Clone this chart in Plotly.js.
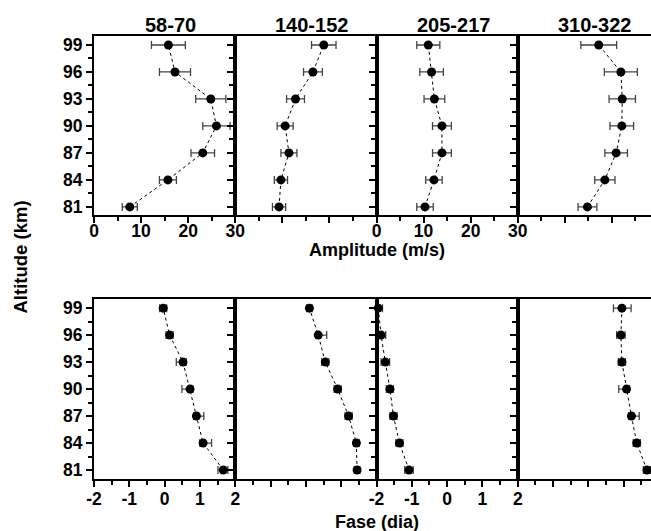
<!DOCTYPE html>
<html>
<head>
<meta charset="utf-8">
<script src="https://cdn.plot.ly/plotly-3.0.1.min.js"></script>
<style>
  html, body { margin: 0; padding: 0; overflow: hidden; background: #fff; }
  #chart { width: 659px; height: 531px; }
</style>
</head>
<body>
<div id="chart"></div>
<script>
// Altitude levels (km)
const altitude = [81, 84, 87, 90, 93, 96, 99];

// Column labels (day-of-year windows)
const windows = ['58-70', '140-152', '205-217', '310-322'];

// Tick values for the amplitude and phase axes
const ampTicks = [0, 10, 20, 30];
const faseTicks = [-2, -1, 0, 1, 2];

// Amplitude (m/s) and its uncertainty per window
const amp58  = [7.6, 15.7, 23.1, 26.0, 24.8, 17.2, 15.8];
const amp58Err  = [1.6, 1.8, 2.5, 2.9, 3.2, 3.3, 3.6];
const amp140 = [9.3, 9.7, 11.4, 10.6, 12.8, 16.5, 18.8];
const amp140Err = [1.4, 1.4, 1.7, 1.7, 1.9, 2.0, 2.6];
const amp205 = [10.3, 12.2, 13.9, 13.9, 12.3, 11.7, 11.0];
const amp205Err = [1.75, 1.75, 2.0, 2.0, 2.2, 2.5, 2.45];
const amp310 = [14.8, 18.5, 20.9, 22.1, 22.2, 21.9, 17.2];
const amp310Err = [2.0, 2.15, 2.4, 2.5, 2.8, 3.5, 3.8];

// Phase (days) with upper / lower uncertainty per window
const fase58  = [1.66, 1.09, 0.90, 0.72, 0.52, 0.14, -0.04];
const fase58Plus  = [0.13, 0.24, 0.21, 0.085, 0.09, 0.10, 0.10];
const fase58Minus = [0.15, 0.09, 0.075, 0.23, 0.19, 0.10, 0.10];
const fase140 = [1.45, 1.43, 1.21, 0.90, 0.55, 0.35, 0.10];
const fase140Plus  = [0.08, 0.08, 0.10, 0.10, 0.10, 0.24, 0.08];
const fase140Minus = [0.08, 0.08, 0.10, 0.10, 0.10, 0.07, 0.08];
const fase205 = [-1.08, -1.35, -1.52, -1.62, -1.75, -1.87, -1.95];
const fase205Plus  = [0.12, 0.10, 0.10, 0.10, 0.12, 0.13, 0.12];
const fase205Minus = [0.12, 0.10, 0.10, 0.10, 0.12, 0.13, 0.12];
const fase310 = [1.66, 1.37, 1.22, 1.08, 0.95, 0.92, 0.95];
const fase310Plus  = [0.10, 0.10, 0.22, 0.08, 0.10, 0.12, 0.26];
const fase310Minus = [0.10, 0.10, 0.08, 0.22, 0.10, 0.12, 0.24];

const ampSeries = [[amp58, amp58Err], [amp140, amp140Err], [amp205, amp205Err], [amp310, amp310Err]];
const faseSeries = [[fase58, fase58Plus, fase58Minus], [fase140, fase140Plus, fase140Minus],
                    [fase205, fase205Plus, fase205Minus], [fase310, fase310Plus, fase310Minus]];

const FONT = 'Liberation Sans, Arial, sans-serif';
const errColor = '#444';
const bold = v => '<b>' + v + '</b>';

function profile(x, errPlus, errMinus, axisIdx) {
  const sfx = axisIdx === 1 ? '' : String(axisIdx);
  return {
    type: 'scatter', mode: 'lines+markers',
    x: x, y: altitude,
    xaxis: 'x' + sfx, yaxis: 'y' + sfx,
    line: { color: '#000', width: 1, dash: 'dot' },
    marker: { color: '#000', size: 9 },
    error_x: { type: 'data', symmetric: false, array: errPlus, arrayminus: errMinus,
               color: errColor, thickness: 1.3, width: 4 },
    cliponaxis: false, showlegend: false, hoverinfo: 'skip'
  };
}

const traces = [];
ampSeries.forEach((s, i) => traces.push(profile(s[0], s[1], s[1], i + 1)));
faseSeries.forEach((s, i) => traces.push(profile(s[0], s[1], s[2], i + 5)));

const tickFont = { family: FONT, size: 17.5, color: '#000' };
const layout = {
  width: 659, height: 531,
  margin: { l: 94, r: 0, t: 36, b: 52 },
  paper_bgcolor: '#fff', plot_bgcolor: '#fff',
  font: { family: FONT, color: '#000' },
  annotations: [],
  showlegend: false
};

const topDom = [0.596, 1], botDom = [0, 0.406];

for (let i = 0; i < 8; i++) {
  const n = i + 1;
  const sfx = n === 1 ? '' : String(n);
  const col = i % 4;
  const top = i < 4;
  const labelled = col === 0 || col === 2;
  const xt = top ? ampTicks : faseTicks;
  layout['xaxis' + sfx] = {
    domain: [col / 4, (col + 1) / 4],
    anchor: 'y' + sfx,
    range: top ? [0, 30] : [-2, 2],
    tickvals: xt, ticktext: xt.map(bold),
    ticks: 'outside', ticklen: 6, tickwidth: 2, tickcolor: '#000',
    ticklabelstandoff: top ? -7 : -3,
    minor: { tick0: top ? 0 : -2, dtick: top ? 5 : 0.5, ticks: 'outside', ticklen: 4, tickwidth: 2, tickcolor: '#000' },
    showticklabels: labelled, tickfont: tickFont,
    showline: true, linewidth: 2, linecolor: '#000', mirror: true,
    showgrid: false, zeroline: false, fixedrange: true
  };
  layout['yaxis' + sfx] = {
    domain: top ? topDom : botDom,
    anchor: 'x' + sfx,
    range: top ? [80.1, 100] : [80.0, 100],
    tickvals: altitude, ticktext: altitude.map(bold),
    ticks: 'outside', ticklen: 6, tickwidth: 2, tickcolor: '#000',
    minor: { tick0: 79.5, dtick: 1.5, ticks: 'outside', ticklen: 4, tickwidth: 2, tickcolor: '#000' },
    showticklabels: col === 0, tickfont: tickFont,
    showline: true, linewidth: 2, linecolor: '#000', mirror: true,
    showgrid: false, zeroline: false, fixedrange: true
  };
}

// Column headers
windows.forEach((w, i) => {
  layout.annotations.push({
    text: bold(w), xref: 'paper', yref: 'paper',
    x: (i + 0.5) / 4, y: 1, xanchor: 'center', yanchor: 'middle',
    xshift: 6, yshift: 11, showarrow: false,
    font: { family: FONT, size: 20, color: '#000' }
  });
});

// Shared axis titles
layout.annotations.push({
  text: bold('Amplitude (m/s)'), xref: 'paper', yref: 'paper',
  x: 0.5, y: topDom[0], xanchor: 'center', yanchor: 'middle', yshift: -35,
  showarrow: false, font: { family: FONT, size: 18, color: '#000' }
});
layout.annotations.push({
  text: bold('Fase (dia)'), xref: 'paper', yref: 'paper',
  x: 0.5, y: 0, xanchor: 'center', yanchor: 'middle', yshift: -43,
  showarrow: false, font: { family: FONT, size: 18, color: '#000' }
});
layout.annotations.push({
  text: bold('Altitude (km)'), xref: 'paper', yref: 'paper',
  x: 0, y: 0.5, xanchor: 'center', yanchor: 'middle', xshift: -74,
  textangle: -90, showarrow: false, font: { family: FONT, size: 18.5, color: '#000' }
});

Plotly.newPlot('chart', traces, layout, { displayModeBar: false, staticPlot: true });
</script>
</body>
</html>
